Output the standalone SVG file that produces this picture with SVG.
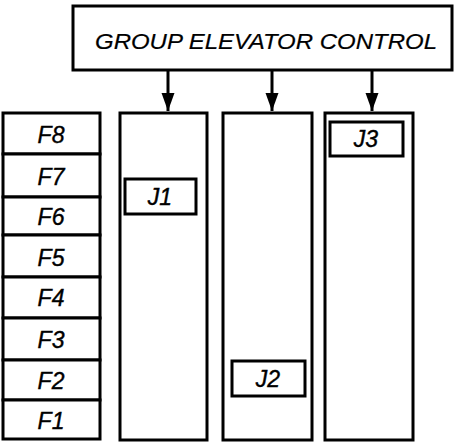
<svg xmlns="http://www.w3.org/2000/svg" width="464" height="448" viewBox="0 0 464 448">
<defs>
<style>
rect{fill:#fff;stroke:#000;stroke-width:3}
text{font-family:"Liberation Sans","DejaVu Sans",sans-serif;font-style:italic;font-size:23px;fill:#000;stroke:#000;stroke-width:0.4;text-anchor:middle}
.c line{stroke:#000;stroke-width:3}
</style>
<marker id="arr" markerWidth="18" markerHeight="25" refX="25" refY="9" orient="auto" markerUnits="userSpaceOnUse" viewBox="0 0 25 18">
<path d="M0 0 L25 9 L0 18 Z" fill="#000"/>
</marker>
</defs>
<g id="control">
<rect x="73" y="6" width="379" height="64"/>
<text x="266" y="49" textLength="342" lengthAdjust="spacingAndGlyphs" style="font-size:22px;stroke-width:0.2">GROUP ELEVATOR CONTROL</text>
</g>
<g id="floors">
<rect x="3" y="113" width="97" height="41"/>
<text x="51" y="143">F8</text>
<rect x="3" y="154" width="97" height="43"/>
<text x="51" y="185">F7</text>
<rect x="3" y="197" width="97" height="38"/>
<text x="51" y="225">F6</text>
<rect x="3" y="235" width="97" height="42"/>
<text x="51" y="266">F5</text>
<rect x="3" y="277" width="97" height="41"/>
<text x="51" y="306">F4</text>
<rect x="3" y="318" width="97" height="42"/>
<text x="51" y="348">F3</text>
<rect x="3" y="360" width="97" height="40"/>
<text x="51" y="389">F2</text>
<rect x="3" y="400" width="97" height="39"/>
<text x="51" y="429">F1</text>
</g>
<g id="shaft1">
<rect x="120" y="113" width="87" height="327"/>
</g>
<g id="shaft2">
<rect x="223" y="113" width="89" height="327"/>
</g>
<g id="shaft3">
<rect x="325" y="113" width="88" height="327"/>
</g>
<g id="J1">
<rect x="125" y="179" width="71" height="35"/>
<text x="160" y="205">J1</text>
</g>
<g id="J2">
<rect x="232" y="361" width="73" height="35"/>
<text x="268" y="387">J2</text>
</g>
<g id="J3">
<rect x="330" y="122" width="73" height="34"/>
<text x="366" y="147">J3</text>
</g>
<g class="c" id="connectors">
<line x1="168" y1="70" x2="168" y2="111" marker-end="url(#arr)"/>
<line x1="272" y1="70" x2="272" y2="111" marker-end="url(#arr)"/>
<line x1="372" y1="70" x2="372" y2="111" marker-end="url(#arr)"/>
</g>
</svg>
